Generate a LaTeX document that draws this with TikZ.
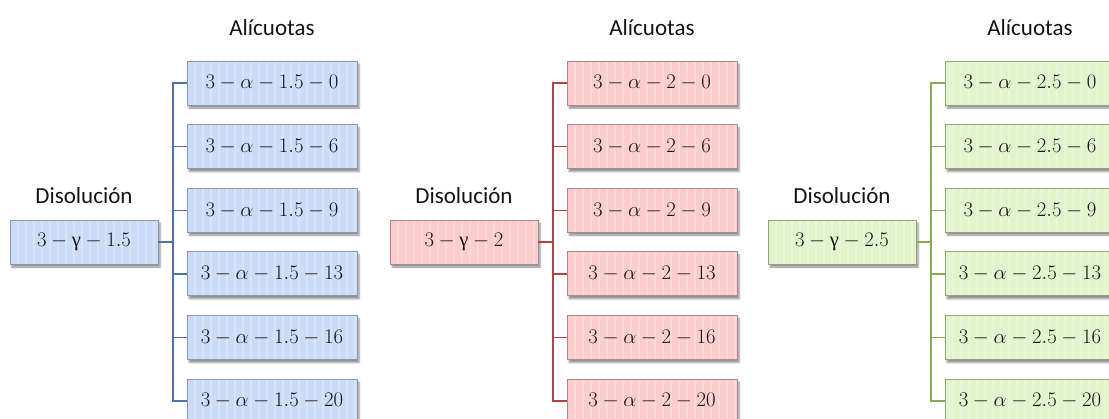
\documentclass[tikz,border=0pt]{standalone}
\usepackage{fontspec}
\setmainfont{Carlito}
\newfontfamily\greekfont{Liberation Serif}
\usetikzlibrary{shadows.blur}

% fills, frames and connector colours of the three series
\definecolor{Fill-blue}{RGB}{203,219,248}
\definecolor{Edge-blue}{RGB}{140,152,175}
\definecolor{Line-blue}{RGB}{80,114,166}
\definecolor{Fill-red}{RGB}{255,204,204}
\definecolor{Edge-red}{RGB}{168,140,140}
\definecolor{Line-red}{RGB}{180,66,66}
\definecolor{Fill-green}{RGB}{226,244,204}
\definecolor{Edge-green}{RGB}{148,162,128}
\definecolor{Line-green}{RGB}{136,172,78}
\definecolor{ink}{RGB}{20,20,20}

\tikzset{
  cell/.style={
    draw=Edge-#1, fill=Fill-#1, line width=0.8pt,
    minimum height=44pt, inner sep=0pt, text=ink,
    font=\fontsize{20.5}{24}\selectfont,
    blur shadow={shadow xshift=2pt, shadow yshift=-3pt,
                 shadow blur steps=5, shadow opacity=45},
    path picture={
      \foreach \k in {1,...,22}
        \draw[white, opacity=0.25, line width=1.2pt]
          ([xshift=\k*8pt]path picture bounding box.north west) --
          ([xshift=\k*8pt]path picture bounding box.south west);
    }},
  rootcell/.style={cell=#1, minimum width=148pt},
  aliqcell/.style={cell=#1, minimum width=170pt},
  conn/.style={draw=Line-#1, line width=1.4pt},
  heading/.style={text=ink, font=\fontsize{23}{27}\selectfont, inner sep=0pt}
}

\newcommand\gam{\mbox{\greekfont γ}}

% one dilution with its six aliquots
\newcommand\drawseries[3]{%
  \begin{scope}[xshift=#1pt]
    \node[heading] (head-#2) at (272,28) {Alícuotas};
    \node[heading] (dis-#2) at (84,196) {Disolución};
    \node[rootcell=#2] (root-#2) at (84,242) {$3-\gam-#3$};
    \coordinate (trunk-#2) at (173,242);
    \foreach \t [count=\i] in {0,6,9,13,16,20} {
      \node[aliqcell=#2] (al-#2-\i) at (272,{83+63.6*(\i-1)}) {$3-\alpha-#3-\t$};
    }
    \foreach \i in {1,...,6} {
      \draw[conn=#2] (root-#2.east) -- (trunk-#2) |- (al-#2-\i.west);
    }
  \end{scope}}

\begin{document}
\begin{tikzpicture}[x=1pt,y=-1pt]
  \useasboundingbox (0,0) rectangle (1109,418);
  \begin{scope}
    \clip (0,0) rectangle (1109,418);
    \drawseries{0}{blue}{1.5}
    \drawseries{380}{red}{2}
    \drawseries{758}{green}{2.5}
  \end{scope}
\end{tikzpicture}
\end{document}
